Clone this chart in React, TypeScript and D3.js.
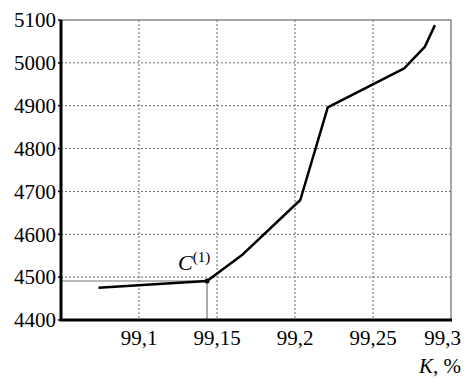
import React, { useEffect, useRef } from 'react'
import * as d3 from 'd3'

// K, % values and matching y values
const kValues = [99.074, 99.1436, 99.1665, 99.2034, 99.221, 99.27, 99.2833, 99.2897]
const yValues = [4475, 4491, 4553, 4680, 4896, 4987, 5038, 5088]
const xTicks = [99.1, 99.15, 99.2, 99.25, 99.3]
const yTicks = [4400, 4500, 4600, 4700, 4800, 4900, 5000, 5100]
const markIndex = 1

const App = () => {
  const ref = useRef<SVGSVGElement>(null)

  useEffect(() => {
    const width = 466
    const height = 378
    const left = 61
    const right = 451
    const top = 20
    const bottom = 320
    const font = "'Times New Roman', 'Liberation Serif', 'DejaVu Serif', serif"

    const svg = d3.select(ref.current)
    svg.selectAll('*').remove()
    svg.attr('width', width).attr('height', height)

    const x = d3.scaleLinear().domain([99.05, 99.3]).range([left, right])
    const y = d3.scaleLinear().domain([4400, 5100]).range([bottom, top])

    // grid
    svg
      .selectAll('.vgrid')
      .data(xTicks.slice(0, -1))
      .enter()
      .append('line')
      .attr('x1', d => x(d))
      .attr('x2', d => x(d))
      .attr('y1', top)
      .attr('y2', bottom)
      .attr('stroke', '#666')
      .attr('stroke-width', 1)
      .attr('stroke-dasharray', '2,2')

    svg
      .selectAll('.hgrid')
      .data(yTicks.slice(1, -1))
      .enter()
      .append('line')
      .attr('x1', left)
      .attr('x2', right)
      .attr('y1', d => y(d))
      .attr('y2', d => y(d))
      .attr('stroke', '#666')
      .attr('stroke-width', 1)
      .attr('stroke-dasharray', '2,2')

    // top and right border
    svg
      .append('path')
      .attr('d', `M${left},${top}H${right}V${bottom}`)
      .attr('fill', 'none')
      .attr('stroke', '#888')
      .attr('stroke-width', 1.5)

    // guide lines to the marked point
    const mx = x(kValues[markIndex])
    const my = y(yValues[markIndex])
    svg
      .append('path')
      .attr('d', `M${left},${my}H${mx}V${bottom}`)
      .attr('fill', 'none')
      .attr('stroke', '#777')
      .attr('stroke-width', 1.2)

    // curve
    const line = d3
      .line<number>()
      .x((d, i) => x(kValues[i]))
      .y(d => y(d))
    svg
      .append('path')
      .datum(yValues)
      .attr('d', line)
      .attr('fill', 'none')
      .attr('stroke', '#000')
      .attr('stroke-width', 2.5)
      .attr('stroke-linejoin', 'round')

    svg
      .append('circle')
      .attr('cx', mx)
      .attr('cy', my)
      .attr('r', 2.5)
      .attr('fill', '#000')

    // axes
    svg
      .append('path')
      .attr('d', `M${left},${top}V${bottom}H${right + 1}`)
      .attr('fill', 'none')
      .attr('stroke', '#000')
      .attr('stroke-width', 3)

    svg
      .selectAll('.ytick')
      .data(yTicks)
      .enter()
      .append('line')
      .attr('x1', left - 3)
      .attr('x2', left)
      .attr('y1', d => y(d))
      .attr('y2', d => y(d))
      .attr('stroke', '#000')
      .attr('stroke-width', 1.5)

    svg
      .selectAll('.ylabel')
      .data(yTicks)
      .enter()
      .append('text')
      .attr('x', left - 5)
      .attr('y', d => y(d))
      .attr('dy', '0.35em')
      .attr('text-anchor', 'end')
      .attr('font-family', font)
      .attr('font-size', 21)
      .text(d => d)

    svg
      .selectAll('.xlabel')
      .data(xTicks)
      .enter()
      .append('text')
      .attr('x', (d, i) => (i === xTicks.length - 1 ? 461 : x(d)))
      .attr('y', 345)
      .attr('text-anchor', (d, i) => (i === xTicks.length - 1 ? 'end' : 'middle'))
      .attr('font-family', font)
      .attr('font-size', 21)
      .text(d => String(d).replace('.', ','))

    // axis title
    const title = svg
      .append('text')
      .attr('x', 461)
      .attr('y', 373)
      .attr('text-anchor', 'end')
      .attr('font-family', font)
      .attr('font-size', 21)
    title.append('tspan').attr('font-style', 'italic').text('K')
    title.append('tspan').text(', %')

    // point label
    const label = svg
      .append('text')
      .attr('x', mx - 29)
      .attr('y', my - 11)
      .attr('font-family', font)
      .attr('font-size', 22)
    label.append('tspan').attr('font-style', 'italic').text('C')
    label
      .append('tspan')
      .attr('dy', -8)
      .attr('font-size', 15)
      .text('(1)')
  }, [])

  return (
    <svg
      ref={ref}
      style={{ position: 'absolute', left: 0, top: 0, background: '#fff' }}
    ></svg>
  )
}

export default App
